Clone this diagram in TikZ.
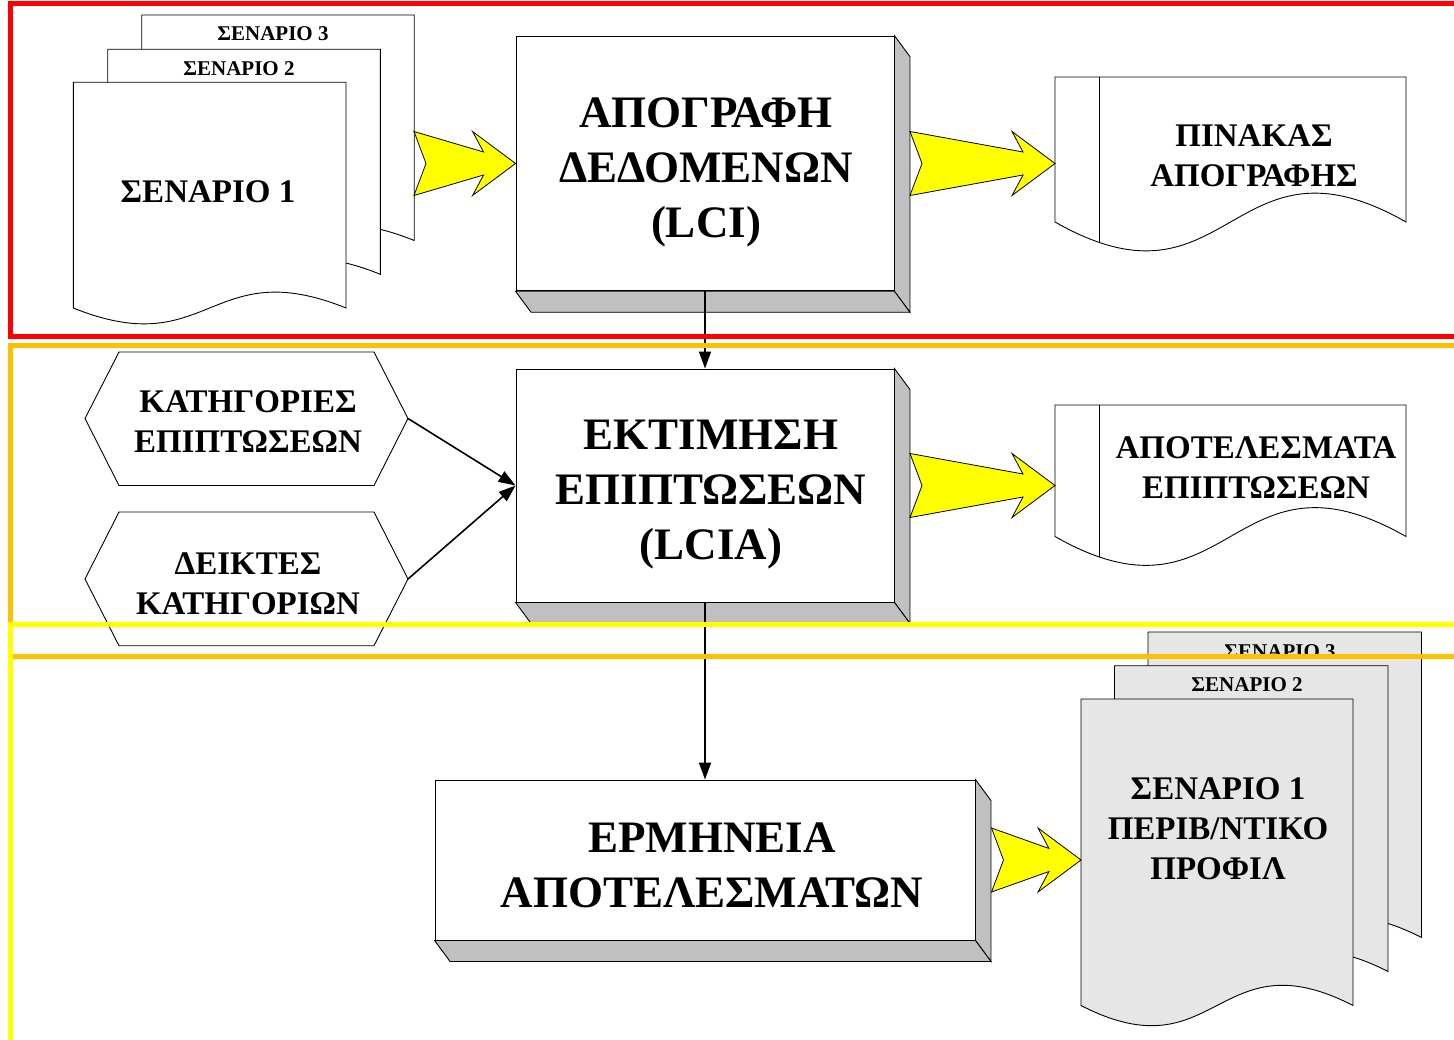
\documentclass[tikz,border=0pt]{standalone}
\usepackage{fontspec}
\setmainfont{Liberation Serif}
\usetikzlibrary{arrows.meta,calc}

\definecolor{framered}{HTML}{FF0000}
\definecolor{frameorange}{HTML}{FFC000}
\definecolor{frameyellow}{HTML}{FFFF00}
\definecolor{sidegray}{HTML}{C0C0C0}
\definecolor{docgray}{HTML}{E6E6E6}
\definecolor{chevyellow}{HTML}{FFFF00}

% page with a wavy bottom edge: style, x0, y0, x1, y1 (side bottom), wave depth
\newcommand\wavedoc[6]{%
  \path[#1] (#2,#3) -- (#4,#3) -- (#4,#5)
    .. controls ({(#2+#4)/2},{#5-#6}) and ({(#2+#4)/2},{#5+#6}) .. (#2,#5) -- cycle;}

% same page with a binding strip on its left
\newcommand\carddoc[6]{%
  \wavedoc{#1}{#2}{#3}{#4}{#5}{#6}
  \begin{scope}
    \clip (#2,#3) -- (#4,#3) -- (#4,#5)
      .. controls ({(#2+#4)/2},{#5-#6}) and ({(#2+#4)/2},{#5+#6}) .. (#2,#5) -- cycle;
    \draw[outline] ({#2+44},#3) -- ({#2+44},{#5+#6});
  \end{scope}}

% depth faces of a raised box node
\newcommand\slab[1]{%
  \path[side] (#1.north east) -- ++(15.5,21) -- ($(#1.south east)+(15.5,21)$) -- (#1.south east) -- cycle;
  \path[side] (#1.south west) -- (#1.south east) -- ++(15.5,21) -- ($(#1.south west)+(15.5,21)$) -- cycle;}

% notched block arrow from a tail point to a tip point
\newcommand\chevron[2]{%
  \draw[chev] let \p1=(#1), \p2=(#2) in
    ({\x1},{\y1+32pt}) -- ({\x2-32pt},{\y1+11.5pt}) -- ({\x2-43pt},{\y1+32pt}) --
    ({\x2},{\y1}) -- ({\x2-43pt},{\y1-32pt}) -- ({\x2-32pt},{\y1-11.5pt}) --
    ({\x1},{\y1-32pt}) -- ({\x1+12pt},{\y1}) -- cycle;}

\begin{document}
\begin{tikzpicture}[x=1pt,y=-1pt,
  outline/.style={draw=black,line width=0.9pt},
  face/.style={outline,fill=white,rectangle,inner sep=0pt},
  side/.style={outline,fill=sidegray,line join=miter},
  paper/.style={outline,fill=white},
  greypaper/.style={outline,fill=docgray},
  hexa/.style={outline,fill=white},
  chev/.style={draw=black,line width=0.8pt,fill=chevyellow,line join=miter},
  link/.style={draw=black,line width=1.6pt,-{Triangle[length=17pt,width=12pt]}},
  bigtxt/.style={font=\bfseries\fontsize{45}{55}\selectfont,align=center,inner sep=0pt},
  midtxt/.style={font=\bfseries\fontsize{33}{40}\selectfont,align=center,inner sep=0pt},
  smalltxt/.style={font=\bfseries\fontsize{21}{25}\selectfont,inner sep=0pt},
  frame/.style={line width=5pt}
]
\useasboundingbox (0,0) rectangle (1454,1040);
\fill[white] (0,0) rectangle (1454,1040);

% ---- scenario stack (top left)
\wavedoc{paper}{141.7}{15}{414.2}{240.5}{55}
\wavedoc{paper}{107.7}{49.3}{380.3}{274.3}{55}
\wavedoc{paper}{73.3}{82.3}{346}{308}{55}
\node[smalltxt] (scenC) at (273,33.5) {ΣΕΝΑΡΙΟ 3};
\node[smalltxt] (scenB) at (239,68.5) {ΣΕΝΑΡΙΟ 2};
\node[midtxt] (scenA) at (208,192) {ΣΕΝΑΡΙΟ 1};

% ---- inventory box
\node[face,minimum width=378,minimum height=254.7] (lci) at (705,163.5) {};
\slab{lci}
\node[bigtxt] (lcitxt) at (706,172.5) {ΑΠΟΓΡΑΦΗ\\ΔΕΔΟΜΕΝΩΝ\\(LCI)};

% ---- inventory table
\carddoc{paper}{1055}{77}{1406}{222}{100}
\node[midtxt] (invtxt) at (1254,156) {ΠΙΝΑΚΑΣ\\ΑΠΟΓΡΑΦΗΣ};

% ---- impact assessment box
\node[face,minimum width=378,minimum height=233] (lcia) at (705,485.5) {};
\slab{lcia}
\node[bigtxt] (lciatxt) at (711,494.5) {ΕΚΤΙΜΗΣΗ\\ΕΠΙΠΤΩΣΕΩΝ\\(LCIA)};

% ---- impact results
\carddoc{paper}{1055}{405}{1406}{536.5}{100}
\node[midtxt] (restxt) at (1256,468) {ΑΠΟΤΕΛΕΣΜΑΤΑ\\ΕΠΙΠΤΩΣΕΩΝ};

% ---- hexagon inputs
\path[hexa] (85,418.5) -- (119,352) -- (374,352) -- (408,418.5) -- (374,485.5) -- (119,485.5) -- cycle;
\coordinate (catE) at (408,418.5);
\node[midtxt] (cattxt) at (248,422) {ΚΑΤΗΓΟΡΙΕΣ\\ΕΠΙΠΤΩΣΕΩΝ};
\path[hexa] (85,579) -- (119,512) -- (374,512) -- (408,579) -- (374,645.7) -- (119,645.7) -- cycle;
\coordinate (indE) at (408,579);
\node[midtxt] (indtxt) at (248,583.5) {ΔΕΙΚΤΕΣ\\ΚΑΤΗΓΟΡΙΩΝ};

% ---- interpretation box
\node[face,minimum width=540,minimum height=160] (interp) at (705,860) {};
\slab{interp}
\node[bigtxt] (interptxt) at (712,865) {ΕΡΜΗΝΕΙΑ\\ΑΠΟΤΕΛΕΣΜΑΤΩΝ};

% ---- profile stack (bottom right)
\wavedoc{greypaper}{1148}{632}{1421.5}{937.5}{70}
\wavedoc{greypaper}{1114.5}{665.7}{1388}{971.5}{70}
\wavedoc{greypaper}{1081}{699}{1353}{1005.5}{70}
\node[smalltxt] (profC) at (1280,652) {ΣΕΝΑΡΙΟ 3};
\node[smalltxt] (profB) at (1247,685) {ΣΕΝΑΡΙΟ 2};
\node[midtxt] (profA) at (1218,828.5) {ΣΕΝΑΡΙΟ 1\\ΠΕΡΙΒ/ΝΤΙΚΟ\\ΠΡΟΦΙΛ};

% ---- connectors
\draw[link] (lci.south) -- (lcia.north);
\draw[link] (lcia.south) -- (interp.north);
\draw[link] (catE) -- (lcia.west);
\draw[link] (indE) -- (lcia.west);

\coordinate (chA) at (414,163.5);
\coordinate (chB) at (910,163.5);
\coordinate (chBt) at (1055,163.5);
\coordinate (chC) at (910,485.5);
\coordinate (chCt) at (1055,485.5);
\coordinate (chD) at (991.5,860);
\coordinate (chDt) at (1081,860);
\chevron{chA}{lci.west}
\chevron{chB}{chBt}
\chevron{chC}{chCt}
\chevron{chD}{chDt}

% ---- phase frames
\draw[frame,framered] (10.5,4) rectangle (1490,337);
\draw[frame,frameorange] (10.5,345.5) rectangle (1490,656);
\draw[frame,frameyellow] (10.5,624) rectangle (1490,1090);
\end{tikzpicture}
\end{document}
